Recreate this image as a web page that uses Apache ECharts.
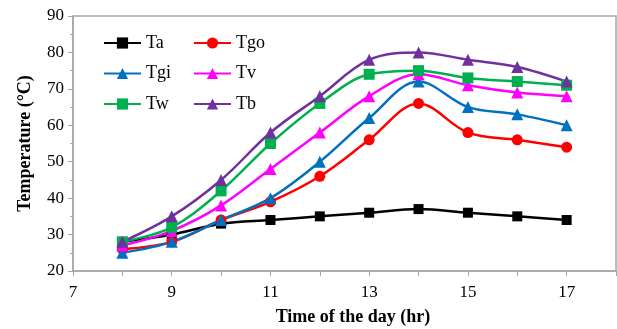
<!DOCTYPE html>
<html><head><meta charset="utf-8">
<script src="https://cdn.jsdelivr.net/npm/echarts@6/dist/echarts.min.js"></script>
<style>html,body{margin:0;padding:0;background:#fff}#c{width:617px;height:329px}</style>
</head><body><div id="c"></div>
<script>
const hours = [8, 9, 10, 11, 12, 13, 14, 15, 16, 17];
const Ta  = [28, 30, 33, 34, 35, 36, 37, 36, 35, 34];
const Tgo = [26, 28, 34, 39, 46, 56, 66, 58, 56, 54];
const Tgi = [25, 28, 34, 40, 50, 62, 72, 65, 63, 60];
const Tv  = [27, 31, 38, 48, 58, 68, 74, 71, 69, 68];
const Tw  = [28, 32, 42, 55, 66, 74, 75, 73, 72, 71];
const Tb  = [28, 35, 45, 58, 68, 78, 80, 78, 76, 72];
const xTickLabels = ['7', '9', '11', '13', '15', '17'];

const font = 'Liberation Serif';
function pairs(v){ return hours.map((h,i)=>[h, v[i]]); }
function ser(name, data, color, symbol, size){
  return {name, type:'line', data:pairs(data), smooth:0.35, symbol, symbolSize:size,
    lineStyle:{color, width:2.5}, itemStyle:{color}, color};
}
const chart = echarts.init(document.getElementById('c'), null, {renderer:'canvas'});
const legendCommon = {orient:'vertical', itemWidth:37, itemHeight:14, itemGap:12.5,
  textStyle:{fontFamily:font, fontSize:18, color:'#000'}, padding:0};
chart.setOption({
  animation:false,
  backgroundColor:'#fff',
  grid:{left:73, right:1, top:16, bottom:58, show:true, borderColor:'#a6a6a6', borderWidth:1.5,
    outerBoundsMode:'none', containLabel:false},
  legend:[
    Object.assign({left:103, top:34, data:['Ta','Tgi','Tw']}, legendCommon),
    Object.assign({left:193, top:34, data:['Tgo','Tv','Tb']}, legendCommon)
  ],
  xAxis:{type:'value', min:7, max:18, interval:1,
    name:'Time of the day (hr)', nameLocation:'middle', nameGap:37,
    nameTextStyle:{fontFamily:font, fontSize:18, fontWeight:'bold', color:'#000', padding:[0,0,0,17]},
    axisLine:{lineStyle:{color:'#a6a6a6', width:1.5}},
    axisTick:{show:true, length:5, lineStyle:{color:'#a6a6a6'}},
    axisLabel:{fontFamily:font, fontSize:17, color:'#000', margin:13,
      formatter:v=> xTickLabels.indexOf(String(v))>=0 ? String(v) : ''},
    splitLine:{show:false}},
  yAxis:{type:'value', min:20, max:90, interval:10,
    name:'Temperature (°C)', nameLocation:'middle', nameGap:39,
    nameTextStyle:{fontFamily:font, fontSize:18, fontWeight:'bold', color:'#000'},
    axisLine:{show:true, lineStyle:{color:'#a6a6a6', width:1.5}},
    axisTick:{show:true, length:5, lineStyle:{color:'#a6a6a6'}},
    minorTick:{show:true, splitNumber:2, length:3, lineStyle:{color:'#a6a6a6'}},
    axisLabel:{fontFamily:font, fontSize:17, color:'#000', margin:9},
    splitLine:{show:false}},
  series:[
    ser('Ta', Ta, '#000000', 'rect', 10),
    ser('Tgo', Tgo, '#ff0000', 'circle', 11),
    ser('Tgi', Tgi, '#0070c0', 'triangle', 12),
    ser('Tv', Tv, '#ff00ff', 'triangle', 12),
    ser('Tw', Tw, '#00b050', 'rect', 11),
    ser('Tb', Tb, '#7030a0', 'triangle', 12)
  ]
});
</script></body></html>
